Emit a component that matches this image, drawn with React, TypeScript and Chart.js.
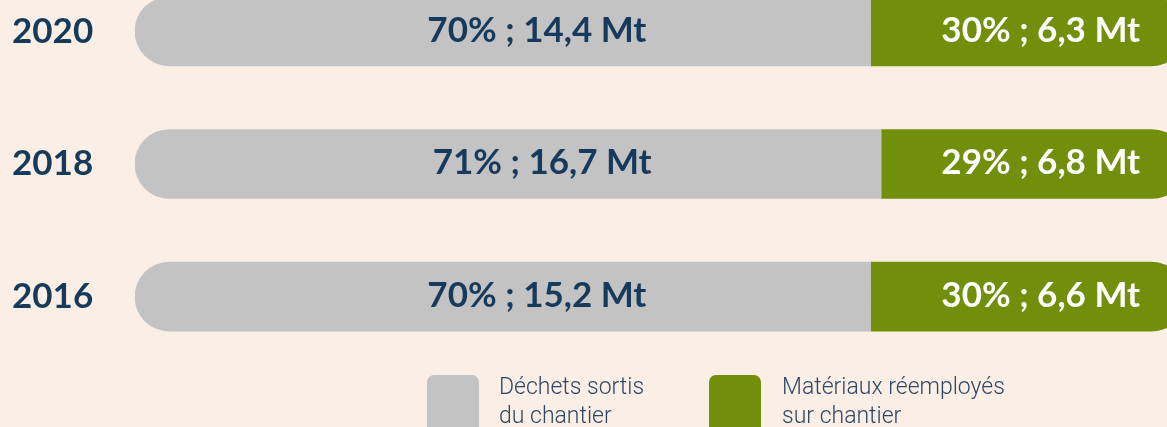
import React, { useEffect, useRef } from "react";
import { Chart, registerables } from "chart.js";

Chart.register(...registerables);

const years = ["2020", "2018", "2016"];
const dechetsPct = [70, 71, 70];
const reemploiPct = [30, 29, 30];
const dechetsMt = [14.4, 16.7, 15.2];
const reemploiMt = [6.3, 6.8, 6.6];
const legendItems = [
  { lines: ["Déchets sortis", "du chantier"], color: "#c3c3c3" },
  { lines: ["Matériaux réemployés", "sur chantier"], color: "#718f0b" },
];

const BG = "#fbeee5";
const GRAY = "#c3c3c3";
const GREEN = "#718f0b";
const NAVY = "#163a5c";
const FONT = "Lato";

const fmt = (v: number) => v.toFixed(1).replace(".", ",");

const labelPlugin = {
  id: "barLabels",
  afterDatasetsDraw(chart: any) {
    const ctx = chart.ctx;
    ctx.save();
    ctx.font = `700 35px ${FONT}`;
    ctx.textBaseline = "middle";
    const m0 = chart.getDatasetMeta(0);
    const m1 = chart.getDatasetMeta(1);
    m0.data.forEach((bar: any, i: number) => {
      const mid = (bar.base + bar.x) / 2 + 34;
      ctx.fillStyle = NAVY;
      ctx.textAlign = "center";
      ctx.fillText(`${dechetsPct[i]}% ; ${fmt(dechetsMt[i])} Mt`, mid, bar.y - 1);
    });
    m1.data.forEach((bar: any, i: number) => {
      ctx.fillStyle = "#ffffff";
      ctx.textAlign = "right";
      ctx.fillText(`${reemploiPct[i]}% ; ${fmt(reemploiMt[i])} Mt`, bar.x - 46, bar.y - 1);
    });
    ctx.restore();
  },
};

export default function App() {
  const ref = useRef<HTMLCanvasElement>(null);
  useEffect(() => {
    if (!ref.current) return;
    const chart = new Chart(ref.current, {
      type: "bar",
      data: {
        labels: years,
        datasets: [
          {
            label: "Déchets sortis du chantier",
            data: dechetsPct,
            backgroundColor: GRAY,
            barThickness: 69,
            borderSkipped: false,
            borderRadius: { topLeft: 35, bottomLeft: 35, topRight: 0, bottomRight: 0 },
          },
          {
            label: "Matériaux réemployés sur chantier",
            data: reemploiPct,
            backgroundColor: GREEN,
            barThickness: 69,
            borderSkipped: false,
            borderRadius: { topLeft: 0, bottomLeft: 0, topRight: 35, bottomRight: 35 },
          },
        ],
      },
      options: {
        indexAxis: "y",
        responsive: false,
        animation: false,
        layout: { padding: { left: 12, right: 14, top: 0, bottom: 0 } },
        plugins: { legend: { display: false }, tooltip: { enabled: false } },
        scales: {
          x: { stacked: true, min: 0, max: 100, display: false },
          y: {
            stacked: true,
            grid: { display: false },
            border: { display: false },
            afterFit: (s: any) => {
              s.width = 123;
            },
            ticks: {
              crossAlign: "far",
              padding: 0,
              color: NAVY,
              font: { family: FONT, weight: "bold", size: 35 },
            },
          },
        },
      } as any,
      plugins: [labelPlugin],
    });
    return () => chart.destroy();
  }, []);

  return (
    <div
      style={{
        position: "fixed",
        left: 0,
        top: 0,
        width: 1167,
        height: 427,
        overflow: "hidden",
        background: BG,
      }}
    >
      <canvas
        ref={ref}
        width={1200}
        height={440}
        style={{ position: "absolute", left: 0, top: -56, width: 1200, height: 440 }}
      />
      {legendItems.map((item, i) => (
        <React.Fragment key={i}>
          <div
            style={{
              position: "absolute",
              left: i === 0 ? 427 : 709,
              top: 375,
              width: 52,
              height: 62,
              borderRadius: 7,
              background: item.color,
            }}
          />
          <div
            style={{
              position: "absolute",
              left: i === 0 ? 499 : 782,
              top: 372,
              fontFamily: "Roboto",
              fontWeight: 300,
              fontSize: 23,
              lineHeight: "29px",
              color: "#2c4866",
              whiteSpace: "nowrap",
            }}
          >
            {item.lines.map((l, j) => (
              <div key={j}>{l}</div>
            ))}
          </div>
        </React.Fragment>
      ))}
    </div>
  );
}
